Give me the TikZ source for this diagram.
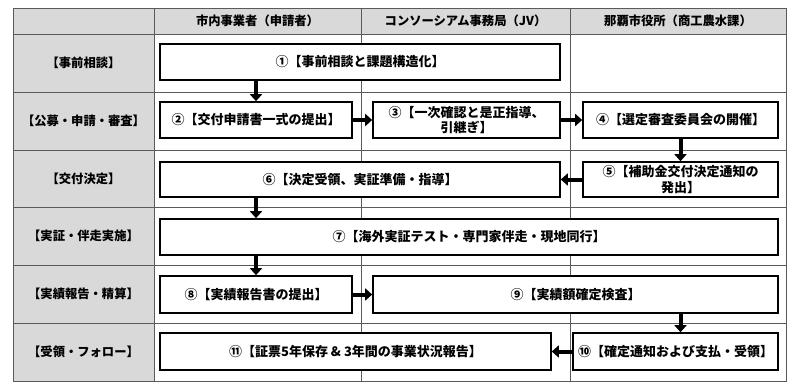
\documentclass[tikz,border=0pt]{standalone}
\usepackage{fontspec}
\setmainfont{Noto Sans CJK JP}
\usetikzlibrary{arrows.meta}

\definecolor{headgray}{HTML}{D9D9D9}
\definecolor{gridgray}{HTML}{5A5A5A}

\tikzset{
  stepbox/.style={draw=black, line width=1.6pt, fill=white, align=center,
    inner sep=0pt, font=\fontsize{13}{15.5}\selectfont\bfseries},
  rowlabel/.style={font=\fontsize{12.3}{15}\selectfont\bfseries},
  flow/.style={line width=4pt, -{Triangle[length=7pt,width=12pt]}}
}

\begin{document}
\begin{tikzpicture}[x=1pt,y=-1pt]
    \useasboundingbox (0,0) rectangle (800,391);
    % Table background
    \fill[headgray] (13,8) rectangle (786,34);
    \fill[headgray] (13,8) rectangle (154,381);
    % Grid
    \draw[gridgray, line width=0.8pt] (13,8) rectangle (786,381);
    \foreach \y in {34,92,150,207,265,323}
      \draw[gridgray, line width=0.8pt] (13,\y) -- (786,\y);
    \foreach \x in {154,361,570}
      \draw[gridgray, line width=0.8pt] (\x,8) -- (\x,381);
    % Column heads
    \node[rowlabel] (h1) at (257.5,21) {市内事業者（申請者）};
    \node[rowlabel] (h2) at (465.5,21) {コンソーシアム事務局（JV）};
    \node[rowlabel] (h3) at (678,21) {那覇市役所（商工農水課）};
    % Phases
    \node[rowlabel] (p1) at (83.5,63) {【事前相談】};
    \node[rowlabel] (p2) at (83.5,121) {【公募・申請・審査】};
    \node[rowlabel] (p3) at (83.5,178.5) {【交付決定】};
    \node[rowlabel] (p4) at (83.5,236) {【実証・伴走実施】};
    \node[rowlabel] (p5) at (83.5,294) {【実績報告・精算】};
    \node[rowlabel] (p6) at (83.5,352) {【受領・フォロー】};
    % Steps
    \node[stepbox, minimum width=400pt, minimum height=36pt] (s1) at (360,62) {①【事前相談と課題構造化】};
    \node[stepbox, minimum width=192pt, minimum height=36pt] (s2) at (256,120) {②【交付申請書一式の提出】};
    \node[stepbox, minimum width=187pt, minimum height=36pt] (s3) at (466.5,120) {③【一次確認と是正指導、\\引継ぎ】};
    \node[stepbox, minimum width=195pt, minimum height=36pt] (s4) at (680.5,120) {④【選定審査委員会の開催】};
    \node[stepbox, minimum width=195pt, minimum height=35pt] (s5) at (680.5,179.5) {⑤【補助金交付決定通知の\\発出】};
    \node[stepbox, minimum width=400pt, minimum height=35pt] (s6) at (360,179.5) {⑥【決定受領、実証準備・指導】};
    \node[stepbox, minimum width=618pt, minimum height=36pt] (s7) at (469,237) {⑦【海外実証テスト・専門家伴走・現地同行】};
    \node[stepbox, minimum width=192pt, minimum height=37pt] (s8) at (256,294.5) {⑧【実績報告書の提出】};
    \node[stepbox, minimum width=405pt, minimum height=37pt] (s9) at (575.5,294.5) {⑨【実績額確定検査】};
    \node[stepbox, minimum width=205pt, minimum height=37pt] (s10) at (675.5,351.5) {⑩【確定通知および支払・受領】};
    \node[stepbox, minimum width=391pt, minimum height=37pt] (s11) at (355.5,351.5) {⑪【証票5年保存 \& 3年間の事業状況報告】};
    % Flow
    \draw[flow] (s2.north |- s1.south) -- (s2.north);
    \draw[flow] (s2.east) -- (s3.west);
    \draw[flow] (s3.east) -- (s4.west);
    \draw[flow] (s4.south) -- (s5.north);
    \draw[flow] (s5.west) -- (s6.east);
    \draw[flow] (s8.north |- s6.south) -- (s8.north |- s7.north);
    \draw[flow] (s8.north |- s7.south) -- (s8.north);
    \draw[flow] (s8.east) -- (s9.west);
    \draw[flow] (s5.south |- s9.south) -- (s5.south |- s10.north);
    \draw[flow] (s10.west) -- (s11.east);
\end{tikzpicture}
\end{document}
